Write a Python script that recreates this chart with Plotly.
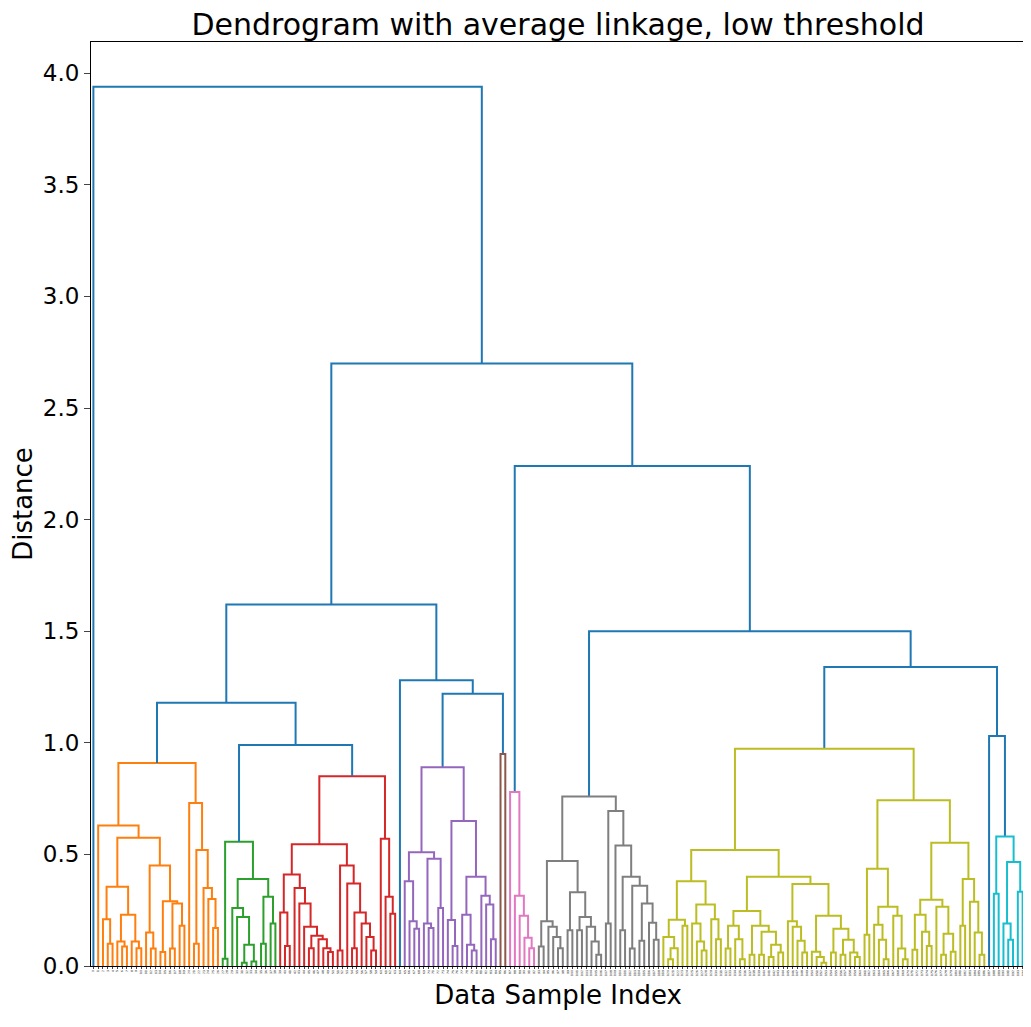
import plotly.graph_objects as go

# Merge tree: [height, left, right]; 0 is a leaf
ORANGE = [0.91,
          [0.63, 0,
           [0.575,
            [0.355, [0.21, 0, [0.10, 0, 0]],
                    [0.23, [0.11, 0, [0.087, 0, 0]], [0.11, 0, [0.08, 0, 0]]]],
            [0.45, [0.15, 0, [0.078, 0, 0]],
                   [0.29, [0.063, 0, 0], [0.28, [0.078, 0, 0], [0.18, 0, 0]]]]]],
          [0.73, 0, [0.52, [0.10, 0, 0], [0.35, 0, [0.30, 0, [0.17, 0, 0]]]]]]
GREEN = [0.557, [0.033, 0, 0],
         [0.39, [0.26, 0, [0.22, 0, [0.095, [0.015, 0, 0], [0.02, 0, 0]]]],
                [0.31, [0.10, 0, 0], [0.19, 0, 0]]]]
RED = [0.85,
       [0.546,
        [0.41, [0.24, 0, [0.09, 0, 0]],
               [0.35, 0, [0.28, 0, [0.176, 0, [0.136, [0.08, 0, 0],
                                                [0.12, 0, [0.08, 0, [0.063, 0, 0]]]]]]]],
        [0.45, [0.07, 0, 0],
               [0.37, 0, [0.24, [0.08, 0, 0], [0.19, 0, [0.13, 0, [0.07, 0, 0]]]]]]],
       [0.57, 0, [0.31, 0, [0.234, 0, 0]]]]
PURPLE = [0.89,
          [0.51, [0.38, 0, [0.20, 0, [0.167, 0, 0]]],
                 [0.48, [0.19, 0, [0.17, 0, 0]], [0.26, 0, 0]]],
          [0.65, [0.206, 0, [0.09, 0, 0]],
                 [0.40, [0.23, 0, [0.095, 0, [0.07, 0, 0]]],
                        [0.315, 0, [0.275, 0, [0.12, 0, 0]]]]]]
BROWN = [0.95, 0, 0]
PINK = [0.78, 0, [0.315, 0, [0.225, 0, [0.127, 0, [0.08, 0, 0]]]]]
GREY = [0.76,
        [0.47, [0.20, [0.087, 0, 0], [0.176, 0, [0.13, 0, [0.08, 0, 0]]]],
               [0.33, [0.16, 0, 0], [0.22, [0.16, 0, 0], [0.176, 0, [0.11, 0, [0.05, 0, 0]]]]]],
        [0.695, [0.19, 0, 0],
                [0.54, 0, [0.40, [0.16, 0, 0],
                                 [0.36, [0.078, 0, 0],
                                        [0.28, [0.113, 0, 0], [0.194, 0, [0.118, 0, 0]]]]]]]]
OLIVE = [0.973,
         [0.52,
          [0.38,
           [0.207, [0.13, 0, [0.08, [0.03, 0, 0], 0]], [0.18, 0, 0]],
           [0.275, [0.19, 0, [0.11, 0, [0.07, 0, 0]]], [0.21, 0, [0.12, 0, 0]]]],
          [0.40,
           [0.246, [0.18, [0.078, 0, 0], [0.12, 0, [0.03, 0, 0]]],
                   [0.18, [0.05, 0, 0], [0.154, [0.05, 0, 0], [0.095, [0.04, 0, 0], [0.06, 0, 0]]]]],
           [0.367, [0.20, 0, [0.176, 0, [0.113, 0, [0.06, 0, 0]]]],
                   [0.225, [0.064, 0, [0.04, 0, [0.015, 0, 0]]],
                           [0.167, [0.06, 0, 0], [0.118, [0.05, 0, 0], [0.06, 0, [0.04, 0, 0]]]]]]]],
         [0.743,
          [0.436, [0.14, 0, 0],
                  [0.266, [0.185, 0, [0.118, 0, [0.03, 0, 0]]], [0.225, 0, [0.078, 0, [0.03, 0, 0]]]]],
          [0.552,
           [0.297, [0.23, [0.073, 0, 0], [0.154, 0, [0.09, 0, 0]]],
                   [0.266, 0, [0.145, [0.05, 0, 0], [0.064, 0, 0]]]],
           [0.39, [0.18, 0, 0], [0.288, 0, [0.15, 0, [0.05, 0, 0]]]]]]]
CYAN = [0.58, [0.324, 0, 0], [0.466, [0.19, 0, [0.118, 0, 0]], [0.333, 0, 0]]]

TREE = [3.94, 0,
        [2.70,
         [1.62,
          [1.18, ORANGE, [0.99, GREEN, RED]],
          [1.28, 0, [1.22, PURPLE, BROWN]]],
         [2.24,
          PINK,
          [1.50, GREY, [1.34, OLIVE, [1.03, 0, CYAN]]]]]]

THRESHOLD = 0.98
ABOVE = "#1f77b4"
PALETTE = ["#ff7f0e", "#2ca02c", "#d62728", "#9467bd", "#8c564b",
           "#e377c2", "#7f7f7f", "#bcbd22", "#17becf"]

segs = {}
leaves = []
n_clusters = [0]


def layout(node, color=None):
    if node == 0:
        x = 5 + 10 * len(leaves)
        leaves.append(x)
        return x, 0.0
    h, left, right = node
    if color is None and h < THRESHOLD:
        color = PALETTE[n_clusters[0] % len(PALETTE)]
        n_clusters[0] += 1
    xl, hl = layout(left, color)
    xr, hr = layout(right, color)
    c = color or ABOVE
    xs, ys = segs.setdefault(c, ([], []))
    xs += [xl, xl, xr, xr, None]
    ys += [hl, h, h, hr, None]
    return (xl + xr) / 2, h


layout(TREE)
n = len(leaves)

fig = go.Figure()
for c, (xs, ys) in segs.items():
    fig.add_trace(go.Scatter(x=xs, y=ys, mode="lines", line=dict(color=c, width=2),
                             hoverinfo="skip", showlegend=False))

fig.update_layout(
    width=1031, height=1027,
    margin=dict(l=83, r=14, t=34, b=69),
    plot_bgcolor="white", paper_bgcolor="white",
    font=dict(family="DejaVu Sans", color="black"),
    title=dict(text="Dendrogram with average linkage, low threshold", x=0.5, xref="paper",
               xanchor="center", y=0.994, yanchor="top", font=dict(size=30)),
)
fig.update_xaxes(range=[0, 10 * n], tickvals=leaves, ticktext=[str(i) for i in range(n)],
                 tickangle=-90, tickfont=dict(size=3), ticks="outside", ticklen=2,
                 showgrid=False, zeroline=False, showline=True, linecolor="black", mirror=True,
                 title=dict(text="Data Sample Index", font=dict(size=26), standoff=10))
fig.update_yaxes(range=[0, 4.14], tickvals=[0, 0.5, 1, 1.5, 2, 2.5, 3, 3.5, 4], tickformat=".1f",
                 tickfont=dict(size=23), ticks="outside", ticklen=6, showgrid=False, zeroline=False,
                 showline=True, linecolor="black", mirror=True,
                 title=dict(text="Distance", font=dict(size=26), standoff=6))

fig.write_html("out.html")
